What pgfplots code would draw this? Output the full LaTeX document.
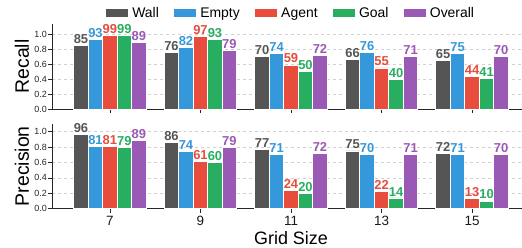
\documentclass[border=0pt]{standalone}
\usepackage{fontspec}
\setmainfont{Liberation Sans}
\usepackage{pgfplots}
\usepackage{pgfplotstable}
\pgfplotsset{compat=1.18}

\definecolor{cwall}{HTML}{555555}
\definecolor{cempty}{HTML}{3498DB}
\definecolor{cagent}{HTML}{E74C3C}
\definecolor{cgoal}{HTML}{27AE60}
\definecolor{coverall}{HTML}{9B59B6}

\pgfplotstableread{
x wall empty agent goal overall
0 85 93 99 99 89
1 76 82 97 93 79
2 70 74 59 50 72
3 66 76 55 40 71
4 65 75 44 41 70
}\recall

\pgfplotstableread{
x wall empty agent goal overall
0 96 81 81 79 89
1 86 74 61 60 79
2 77 71 24 20 72
3 75 70 22 14 71
4 72 71 13 10 70
}\precision

\pgfplotsset{
  /pgf/number format/assume math mode=true,
  myaxis/.style={
    scale only axis, width=478bp, height=85bp,
    xmin=-0.64, xmax=4.64, ymin=0,
    axis lines*=left,
    xtick={0,1,2,3,4},
    ytick={0,0.2,0.4,0.6,0.8,1.0},
    ymajorgrids, grid style={dashed, black!18, line width=0.5bp},
    tick align=outside, major tick length=4bp,
    tick style={black!85, line width=0.8bp},
    axis line style={black!85, line width=0.9bp},
    yticklabel style={font=\fontsize{9}{9}\selectfont, text=black!85, inner sep=1bp,
      /pgf/number format/.cd, fixed, fixed zerofill, precision=1, assume math mode=true},
    xticklabel style={font=\fontsize{13.5}{13.5}\selectfont, text=black!90},
    ylabel style={font=\fontsize{19.5}{20}\selectfont, at={(axis description cs:-0.0628,0.5)}, anchor=center},
    clip=false,
    point meta=explicit,
    nodes near coords={\pgfmathprintnumber[fixed,precision=0,assume math mode=true]{\pgfplotspointmeta}},
    every node near coord/.append style={font=\bfseries\fontsize{13}{13}\selectfont, inner sep=1.5bp, anchor=south},
  },
  mybar/.style={ybar, bar width=0.16, bar shift=0pt, fill=#1, draw=white, line width=0.8bp,
    every node near coord/.append style={text=#1}},
}

\begin{document}
\begin{tikzpicture}
\begin{axis}[myaxis, at={(52bp,139bp)}, anchor=south west,
  ymax=1.14, xticklabels={}, ylabel={Recall},
  legend columns=5,
  legend style={at={(0.5,1)}, anchor=center, yshift=11bp, draw=none, fill=none,
    font=\fontsize{14}{14}\selectfont,
    /tikz/every even column/.append style={column sep=13bp}},
  legend image code/.code={\fill[#1, draw=none] (0bp,-4bp) rectangle (22bp,4bp); \path (24bp,0bp);},
]
\addplot[mybar=cwall] table[x expr=\thisrow{x}-0.32, y expr=\thisrow{wall}/100, meta=wall] {\recall};
\addplot[mybar=cempty] table[x expr=\thisrow{x}-0.16, y expr=\thisrow{empty}/100, meta=empty] {\recall};
\addplot[mybar=cagent] table[x expr=\thisrow{x}, y expr=\thisrow{agent}/100, meta=agent] {\recall};
\addplot[mybar=cgoal] table[x expr=\thisrow{x}+0.16, y expr=\thisrow{goal}/100, meta=goal] {\recall};
\addplot[mybar=coverall] table[x expr=\thisrow{x}+0.32, y expr=\thisrow{overall}/100, meta=overall] {\recall};
\legend{Wall,Empty,Agent,Goal,Overall}
\end{axis}
\begin{axis}[myaxis, at={(52bp,39.3bp)}, anchor=south west,
  ymax=1.104, xticklabels={7,9,11,13,15}, ylabel={Precision},
  xlabel={Grid Size},
  xlabel style={font=\fontsize{18}{18}\selectfont, at={(axis description cs:0.5,0)}, yshift=-29.3bp, anchor=center},
]
\addplot[mybar=cwall] table[x expr=\thisrow{x}-0.32, y expr=\thisrow{wall}/100, meta=wall] {\precision};
\addplot[mybar=cempty] table[x expr=\thisrow{x}-0.16, y expr=\thisrow{empty}/100, meta=empty] {\precision};
\addplot[mybar=cagent] table[x expr=\thisrow{x}, y expr=\thisrow{agent}/100, meta=agent] {\precision};
\addplot[mybar=cgoal] table[x expr=\thisrow{x}+0.16, y expr=\thisrow{goal}/100, meta=goal] {\precision};
\addplot[mybar=coverall] table[x expr=\thisrow{x}+0.32, y expr=\thisrow{overall}/100, meta=overall] {\precision};
\end{axis}
\pgfresetboundingbox
\path[use as bounding box] (0,0) rectangle (522bp,248bp);
\end{tikzpicture}
\end{document}
